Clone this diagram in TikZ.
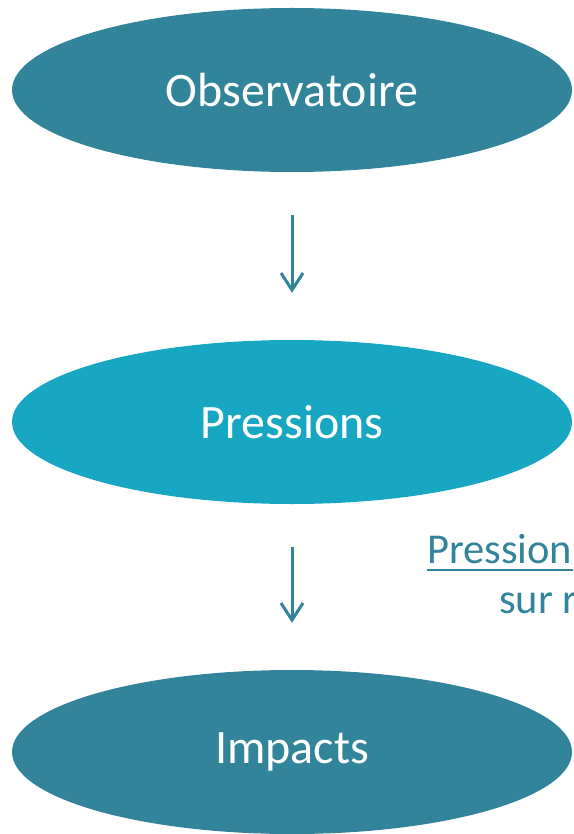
\documentclass[tikz,border=0pt]{standalone}
\usepackage{fontspec}
\setmainfont{Carlito}
\usetikzlibrary{shapes.geometric,arrows.meta,positioning}

\definecolor{tealdark}{HTML}{32849B}
\definecolor{teallight}{HTML}{17A7C2}

\begin{document}
\begin{tikzpicture}[x=1pt,y=-1pt]
	\tikzstyle{every node}=[font=\fontsize{48}{56}\selectfont]
	\tikzstyle{bubble}=[ellipse, text=white, inner sep=0pt,
	minimum width=560, minimum height=164]
	\tikzstyle{flow}=[draw=tealdark, line width=3,
	-{Straight Barb[length=17,width=22,line width=3]},
	shorten <=43, shorten >=47]
	\tikzstyle{side}=[anchor=base west, inner sep=0pt, text=tealdark,
	font=\fontsize{42.5}{50}\selectfont]

	\useasboundingbox (0,0) rectangle (573,834);
	\clip (0,0) rectangle (573,834); % the picture is cut at its edges

	% the three ellipses
	\node[bubble, fill=tealdark] (obs) at (292,90) {Observatoire};
	\node[bubble, fill=teallight] (press) at (292,422) {Pressions};
	\node[bubble, fill=tealdark] (imp) at (292,752) {Impacts};

	% arrows between them
	\draw[flow] (obs.south) -- (press.north);
	\draw[flow] (press.south) -- (imp.north);

	% text on the right, cut by the edge
	\node[side] (pside) at (427,563) {Pression};
	\draw[tealdark, line width=2.2] ([yshift=-7]pside.base west) -- ([yshift=-7]pside.base east);
	\node[side] (sur) at (499,613) {sur r};
\end{tikzpicture}
\end{document}
